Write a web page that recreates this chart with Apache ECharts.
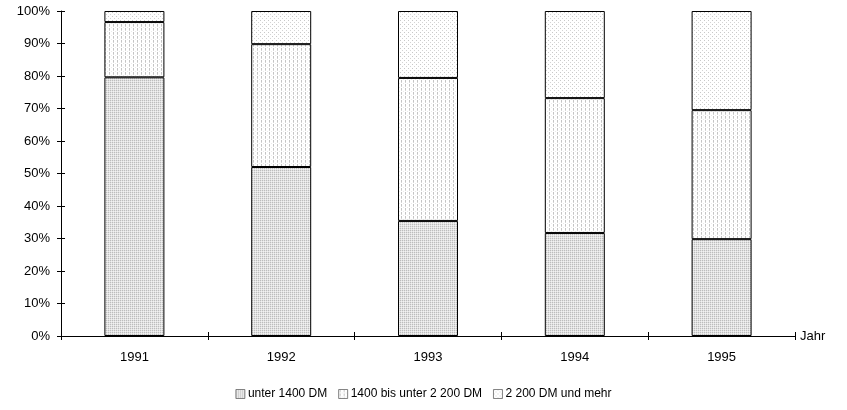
<!DOCTYPE html>
<html>
<head>
<meta charset="utf-8">
<script src="https://cdn.jsdelivr.net/npm/echarts@6.0.0/dist/echarts.min.js"></script>
<style>
  html, body { margin: 0; padding: 0; background: #fff; }
  #chart { width: 847px; height: 410px; }
</style>
</head>
<body>
<div id="chart"></div>
<script>
// Income brackets by year, shares in percent
const years = ['1991', '1992', '1993', '1994', '1995'];
const seriesNames = ['unter 1400 DM', '1400 bis unter 2 200 DM', '2 200 DM und mehr'];
const unter1400 = [79.6, 52.0, 35.4, 31.7, 29.8];
const bis2200 = [17.0, 37.8, 44.0, 41.5, 39.7];
const ab2200 = [3.4, 10.2, 20.6, 26.8, 30.5];
const yTicks = [0, 10, 20, 30, 40, 50, 60, 70, 80, 90, 100];

// Small raster tiles used as hatch fills
function makeTile(size, bg, dots) {
  const c = document.createElement('canvas');
  c.width = size; c.height = size;
  const g = c.getContext('2d');
  g.fillStyle = bg;
  g.fillRect(0, 0, size, size);
  dots.forEach(([x, y, col]) => { g.fillStyle = col; g.fillRect(x, y, 1, 1); });
  return c;
}
// dense grey checker
const tileDense = makeTile(2, '#e2e2e2', [[0, 0, '#bdbdbd'], [1, 1, '#f2f2f2']]);
// vertical dashed stripes
const tileStripes = makeTile(4, '#ffffff', [[1, 0, '#c4c4c4'], [1, 1, '#c4c4c4'], [1, 2, '#d6d6d6'], [3, 3, '#eaeaea']]);
// sparse dots
const tileDots = makeTile(4, '#ffffff', [[0, 0, '#c8c8c8'], [2, 2, '#d4d4d4']]);
const fills = [tileDense, tileStripes, tileDots];
const values = [unter1400, bis2200, ab2200];

const font = 'Liberation Sans, Arial, sans-serif';

const chart = echarts.init(document.getElementById('chart'));
chart.setOption({
  animation: false,
  backgroundColor: '#ffffff',
  textStyle: { fontFamily: font, color: '#000' },
  grid: { left: 61, right: 52, top: 11, bottom: 74, containLabel: false },
  legend: {
    bottom: 5,
    left: 'center',
    icon: 'rect',
    itemWidth: 9,
    itemHeight: 9,
    itemGap: 11,
    itemStyle: { borderColor: '#666', borderWidth: 0.8 },
    textStyle: { fontFamily: font, fontSize: 12, color: '#000', padding: [0, 0, 0, -2] },
    data: seriesNames
  },
  xAxis: [
    {
      type: 'category',
      data: years,
      position: 'bottom',
      name: 'Jahr',
      nameLocation: 'end',
      nameGap: 5,
      nameTextStyle: { fontFamily: font, fontSize: 13, color: '#000' },
      axisLine: { lineStyle: { color: '#000', width: 1 } },
      axisTick: { show: true, length: 4, lineStyle: { color: '#000' } },
      axisLabel: { fontFamily: font, fontSize: 13, color: '#000', margin: 15 },
      splitLine: { show: false }
    },
    {
      type: 'category',
      data: years,
      position: 'bottom',
      axisLine: { show: false },
      axisTick: { show: true, inside: true, length: 4, lineStyle: { color: '#000' } },
      axisLabel: { show: false },
      splitLine: { show: false }
    }
  ],
  yAxis: [
    {
      type: 'value',
      min: yTicks[0],
      max: yTicks[yTicks.length - 1],
      interval: yTicks[1] - yTicks[0],
      position: 'left',
      axisLine: { show: true, lineStyle: { color: '#000', width: 1 } },
      axisTick: { show: true, length: 4, lineStyle: { color: '#000' } },
      axisLabel: { fontFamily: font, fontSize: 13, color: '#000', margin: 11, formatter: '{value}%' },
      splitLine: { show: false }
    },
    {
      type: 'value',
      min: yTicks[0],
      max: yTicks[yTicks.length - 1],
      interval: yTicks[1] - yTicks[0],
      position: 'left',
      axisLine: { show: false },
      axisTick: { show: true, inside: true, length: 4, lineStyle: { color: '#000' } },
      axisLabel: { show: false },
      splitLine: { show: false }
    }
  ],
  series: seriesNames.map((name, i) => ({
    name: name,
    type: 'bar',
    stack: 'share',
    barWidth: 60,
    xAxisIndex: 0,
    yAxisIndex: 0,
    data: values[i],
    itemStyle: {
      color: { image: fills[i], repeat: 'repeat' },
      borderColor: '#000',
      borderWidth: 1
    }
  }))
});
</script>
</body>
</html>
